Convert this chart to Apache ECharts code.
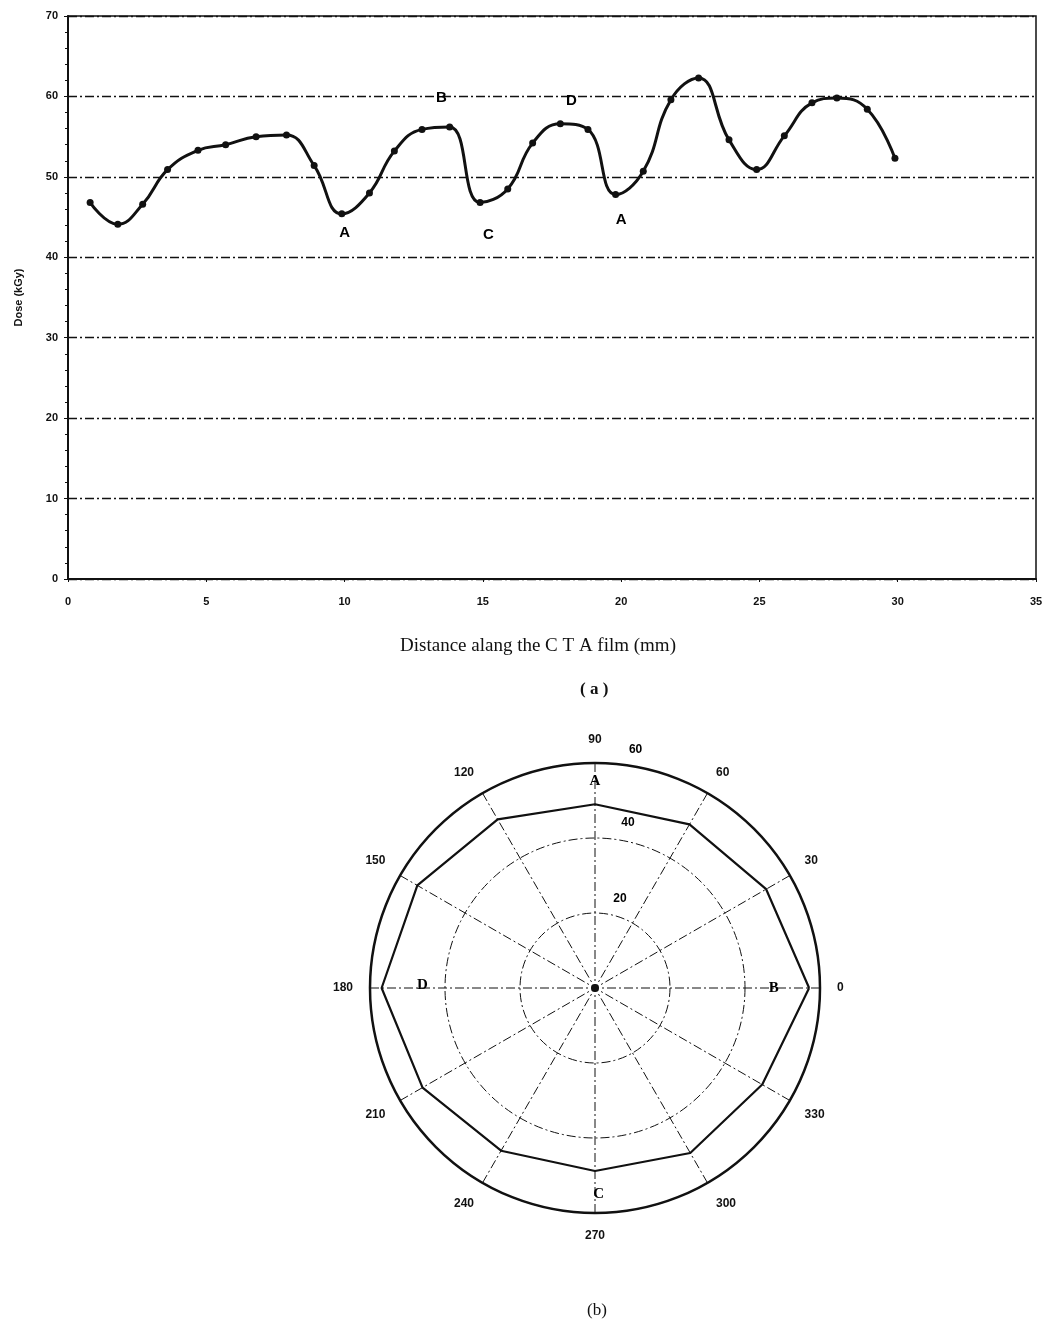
<!DOCTYPE html>
<html>
<head>
<meta charset="utf-8">
<script src="https://cdn.jsdelivr.net/npm/echarts@6/dist/echarts.min.js"></script>
<style>
  html, body { margin: 0; padding: 0; background: #fff; }
  #chart { width: 1050px; height: 1329px; }
</style>
</head>
<body>
<div id="chart"></div>
<script>
// ---- Panel (a): dose along the CTA film ----
const distanceMm = [0.8, 1.8, 2.7, 3.6, 4.7, 5.7, 6.8, 7.9, 8.9, 9.9, 10.9, 11.8, 12.8, 13.8, 14.9,
                    15.9, 16.8, 17.8, 18.8, 19.8, 20.8, 21.8, 22.8, 23.9, 24.9, 25.9, 26.9, 27.8, 28.9, 29.9];
const doseKGy = [46.8, 44.1, 46.6, 50.9, 53.3, 54.0, 55.0, 55.2, 51.4, 45.4, 48.0, 53.2, 55.9, 56.2, 46.8,
                 48.5, 54.2, 56.6, 55.9, 47.8, 50.7, 59.6, 62.3, 54.6, 50.9, 55.1, 59.2, 59.8, 58.4, 52.3];
const markTextA = ['A', 'B', 'C', 'D', 'A'];
const markXA = [10.0, 13.5, 15.2, 18.2, 20.0];
const markYA = [43.0, 59.8, 42.8, 59.4, 44.7];
const xTicks = [0, 5, 10, 15, 20, 25, 30, 35];
const yTicks = [0, 10, 20, 30, 40, 50, 60, 70];

// ---- Panel (b): polar dose distribution ----
const anglesDeg = [0, 30, 60, 90, 120, 150, 180, 210, 240, 270, 300, 330];
const polarDose = [57.1, 52.7, 50.4, 49.0, 51.9, 54.7, 56.9, 53.1, 50.1, 48.8, 50.8, 51.5];
const markTextB = ['A', 'B', 'C', 'D'];
const markAngleB = [90, 0, 271, 179];
const markRadiusB = [55.2, 47.7, 55.0, 46.0];
const radiusTickLabels = ['20', '40', '60'];
const radiusTickPos = [20.3, 40.4, 60];
const radiusTickAngle = [70.9, 77.4, 79.6];

const dashDot = [9, 3, 2, 3];
const ink = '#111';

const lineData = distanceMm.map((x, i) => [x, doseKGy[i]]);
const markDataA = markXA.map((x, i) => ({ value: [x, markYA[i]], name: markTextA[i] }));
const polarLine = anglesDeg.map((a, i) => [polarDose[i], a]);
polarLine.push([polarDose[0], 360]);
const markDataB = markTextB.map((t, i) => ({ value: [markRadiusB[i], markAngleB[i]], name: t }));
const radiusLabelData = radiusTickLabels.map((t, i) => ({ value: [radiusTickPos[i], radiusTickAngle[i]], name: t }));

const hiddenDot = { color: 'rgba(0,0,0,0)', opacity: 1 };

const chart = echarts.init(document.getElementById('chart'), null, { renderer: 'canvas' });
chart.setOption({
  backgroundColor: '#fff',
  animation: false,
  grid: { left: 68, right: 14, top: 16, bottom: 750, show: true, borderColor: ink, borderWidth: 1.5, backgroundColor: 'transparent' },
  xAxis: {
    type: 'value', min: xTicks[0], max: xTicks[xTicks.length - 1], interval: 5,
    name: 'Distance alang the C T A film (mm)', nameLocation: 'middle', nameGap: 58,
    nameTextStyle: { fontFamily: 'Liberation Serif', fontSize: 19, color: ink, padding: [0, 28, 0, 0] },
    axisLine: { lineStyle: { color: ink, width: 2 } },
    axisTick: { show: true, length: 3, lineStyle: { color: ink } },
    axisLabel: { margin: 17, fontFamily: 'Liberation Sans', fontWeight: 'bold', fontSize: 11, color: ink },
    splitLine: { show: false }
  },
  yAxis: {
    type: 'value', min: yTicks[0], max: yTicks[yTicks.length - 1], interval: 10,
    name: 'Dose (kGy)', nameLocation: 'middle', nameGap: 44, nameRotate: 90,
    nameTextStyle: { fontFamily: 'Liberation Sans', fontWeight: 'bold', fontSize: 11, color: ink },
    axisLine: { lineStyle: { color: ink, width: 2 } },
    axisTick: { show: true, length: 4, lineStyle: { color: ink } },
    minorTick: { show: true, splitNumber: 5, length: 3, lineStyle: { color: ink } },
    axisLabel: { margin: 10, fontFamily: 'Liberation Sans', fontWeight: 'bold', fontSize: 11, color: ink },
    splitLine: { show: true, lineStyle: { color: ink, width: 1.3, type: dashDot } }
  },
  polar: { center: [595, 988], radius: 225 },
  angleAxis: {
    type: 'value', min: 0, max: 360, interval: 30, startAngle: 0, clockwise: false,
    axisLine: { lineStyle: { color: ink, width: 2.5 } },
    axisTick: { show: false },
    axisLabel: { margin: 17, fontFamily: 'Liberation Sans', fontWeight: 'bold', fontSize: 12, color: ink,
                 formatter: v => (v === 360 ? '' : String(v)) },
    splitLine: { show: true, lineStyle: { color: ink, width: 1, type: dashDot } }
  },
  radiusAxis: {
    type: 'value', min: 0, max: 60, interval: 20,
    axisLine: { show: false }, axisTick: { show: false }, axisLabel: { show: false },
    splitLine: { show: true, lineStyle: { color: ink, width: 1, type: dashDot } }
  },
  series: [
    {
      type: 'line', xAxisIndex: 0, yAxisIndex: 0, data: lineData, smooth: 0.45,
      symbol: 'circle', symbolSize: 7, itemStyle: { color: ink },
      lineStyle: { color: ink, width: 3 }
    },
    {
      type: 'scatter', xAxisIndex: 0, yAxisIndex: 0, data: markDataA, symbolSize: 1,
      itemStyle: hiddenDot,
      label: { show: true, position: 'inside', formatter: '{b}', fontFamily: 'Liberation Sans',
               fontWeight: 'bold', fontSize: 15, color: '#000', opacity: 1, textBorderWidth: 0 }
    },
    {
      type: 'line', coordinateSystem: 'polar', data: polarLine, symbol: 'none',
      lineStyle: { color: ink, width: 2.2 }
    },
    {
      type: 'scatter', coordinateSystem: 'polar', data: [[0, 0]], symbolSize: 8,
      itemStyle: { color: ink, opacity: 1 }
    },
    {
      type: 'scatter', coordinateSystem: 'polar', data: markDataB, symbolSize: 1,
      itemStyle: hiddenDot,
      label: { show: true, position: 'inside', formatter: '{b}', fontFamily: 'Liberation Serif',
               fontWeight: 'bold', fontSize: 15, color: '#000', opacity: 1, textBorderWidth: 0 }
    },
    {
      type: 'scatter', coordinateSystem: 'polar', data: radiusLabelData, symbolSize: 1,
      itemStyle: hiddenDot,
      label: { show: true, position: 'inside', offset: [0, -17], formatter: '{b}', fontFamily: 'Liberation Sans',
               fontWeight: 'bold', fontSize: 12, color: '#000', opacity: 1, textBorderWidth: 0 }
    }
  ],
  graphic: [
    { type: 'text', left: 580, top: 681, style: { text: '( a )', font: 'bold 17px "Liberation Serif"', fill: ink } },
    { type: 'text', left: 587, top: 1302, style: { text: '(b)', font: '17px "Liberation Serif"', fill: ink } }
  ]
});
</script>
</body>
</html>
